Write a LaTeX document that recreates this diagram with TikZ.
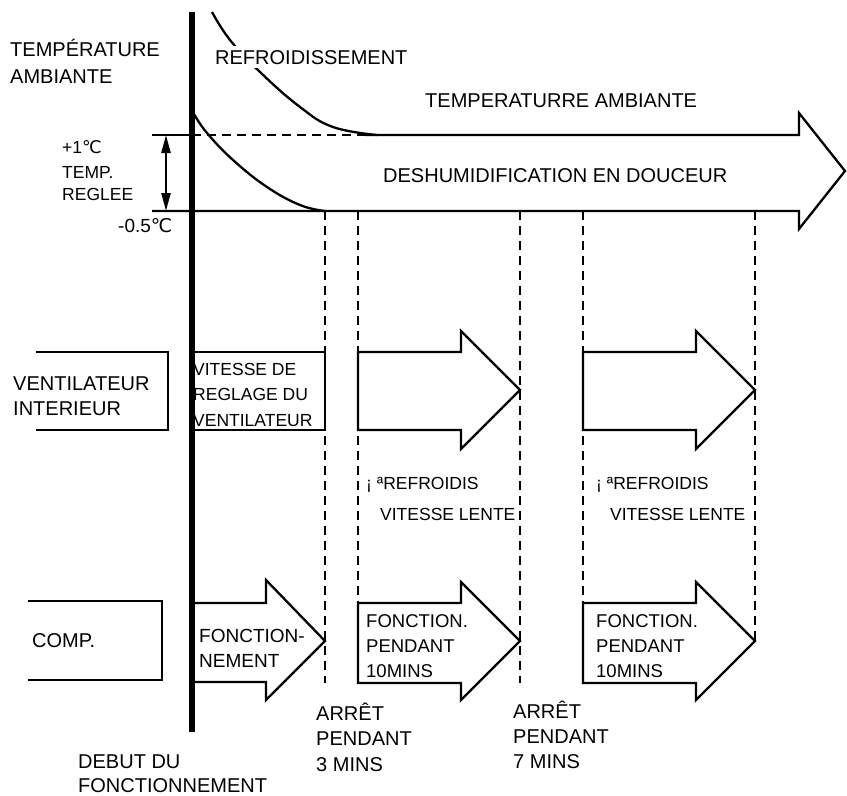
\documentclass[tikz,border=0pt]{standalone}
\usepackage{fontspec}
\setmainfont{Liberation Sans}
\newfontfamily\degfont{DejaVu Sans}
\usetikzlibrary{arrows.meta,positioning}
\newcommand{\degC}{{\degfont ℃}}

\begin{document}
\begin{tikzpicture}[x=1pt,y=-1pt,>={Triangle[length=18pt,width=9pt]},
  line/.style={line width=2.3pt, line join=miter},
  guide/.style={line width=2.3pt, dash pattern=on 9pt off 6pt},
  lbl/.style={inner sep=0pt, anchor=base west, align=left, font=\fontsize{20}{25.5}\selectfont},
  small/.style={lbl, font=\fontsize{17.5}{25.5}\selectfont}]
\useasboundingbox (0,0) rectangle (847,796);

% start of operation
\coordinate (top) at (192,12);
\coordinate (bot) at (192,732);

% room temperature band
\draw[line] (152,135) -- (192,135);
\draw[guide] (192,135) -- (365,135);
\draw[line] (365,135) -- (799,135) -- (799,113) -- (845,171) -- (799,229) -- (799,211) -- (152,211);
\draw[line] plot[smooth, tension=0.7] coordinates {(212,12) (230,40) (260,72) (300,107) (333,127) (377,135)};
\draw[line] plot[smooth, tension=0.7] coordinates {(194,114) (207,133) (233,160) (267,187) (300,205) (325,211)};
\coordinate (hi) at (166,135);
\coordinate (lo) at (166,211);
\draw[<->, line width=2.3pt] (hi) -- (lo);

\foreach \x/\y in {325/683, 358/603, 520/683, 583/603, 755/641}
  \draw[guide] (\x,211) -- (\x,\y);

% indoor fan
\draw[line] (36,352) -- (168,352) -- (168,430) -- (36,430);
\draw[line] (192,352) -- (325,352) -- (325,430) -- (192,430);

% compressor
\draw[line] (28,601) -- (162,601) -- (162,680) -- (28,680);
\draw[line] (192,603) -- (266,603) -- (266,580) -- (325,641) -- (266,700) -- (266,682) -- (192,682);

\foreach \s/\t/\u in {358/520/366, 583/755/596} {
  \draw[line] (\s,352) -- (\t-59,352) -- (\t-59,331) -- (\t,390) -- (\t-59,449) -- (\t-59,430) -- (\s,430) -- cycle;
  \draw[line] (\s,603) -- (\t-59,603) -- (\t-59,582) -- (\t,641) -- (\t-59,700) -- (\t-59,683) -- (\s,683) -- cycle;
  \node[small, font=\fontsize{17.5}{31}\selectfont] (slow\s) at (\u,520) {¡ ªREFROIDIS\\\hspace*{14pt}VITESSE LENTE};
  \node[small, font=\fontsize{18.5}{25}\selectfont] (tenmin\s) at (\u,677) {FONCTION.\\PENDANT\\10MINS};
}

\draw[line width=5.5pt] (top) -- (bot);

\node[lbl, font=\fontsize{20}{27}\selectfont] (ambient) at (10,83) {TEMPÉRATURE\\AMBIANTE};
\node[lbl, fill=white, inner sep=4pt] (cooling) at (211,64) {REFROIDISSEMENT};
\node[lbl] (roomtemp) at (425,107) {TEMPERATURRE AMBIANTE};
\node[lbl] (dry) at (383,182) {DESHUMIDIFICATION EN DOUCEUR};
\node[small] (plusone) at (62,153) {+1\degC};
\node[small, font=\fontsize{17.5}{22}\selectfont] (setpoint) at (62,200) {TEMP.\\REGLEE};
\node[lbl, font=\fontsize{19}{25}\selectfont] (minushalf) at (118,232) {-0.5\degC};

\node[lbl, font=\fontsize{20}{25}\selectfont] (fan) at (13,415) {VENTILATEUR\\INTERIEUR};
\node[small] (fanset) at (193,426) {VITESSE DE\\REGLAGE DU\\VENTILATEUR};

\node[lbl] (comp) at (32,647) {COMP.};
\node[lbl, font=\fontsize{19}{25}\selectfont] (run) at (199,667) {FONCTION-\\NEMENT};

\node[lbl] (stopthree) at (316,771) {ARRÊT\\PENDANT\\3 MINS};
\node[lbl, font=\fontsize{20}{25}\selectfont] (stopseven) at (513,768) {ARRÊT\\PENDANT\\7 MINS};
\node[lbl, font=\fontsize{20}{24}\selectfont] (start) at (78,792) {DEBUT DU\\FONCTIONNEMENT};
\end{tikzpicture}
\end{document}
